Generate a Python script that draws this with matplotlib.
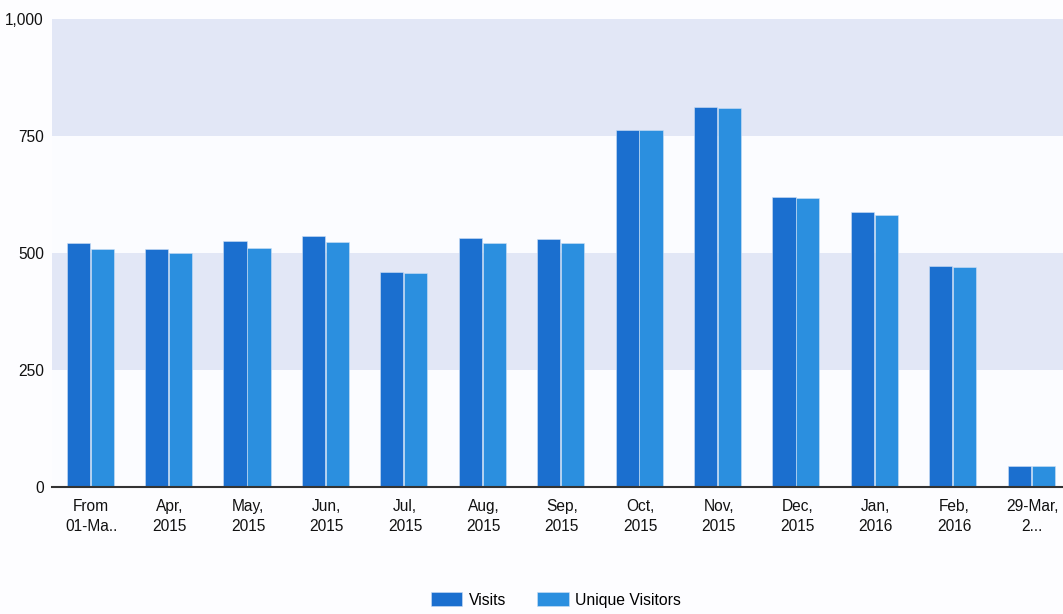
import matplotlib.pyplot as plt
import numpy as np
from matplotlib.ticker import FuncFormatter

plt.rcParams['font.family'] = ['Liberation Sans', 'DejaVu Sans']

labels = ['From\n01-Ma..', 'Apr,\n2015', 'May,\n2015', 'Jun,\n2015', 'Jul,\n2015',
          'Aug,\n2015', 'Sep,\n2015', 'Oct,\n2015', 'Nov,\n2015', 'Dec,\n2015',
          'Jan,\n2016', 'Feb,\n2016', '29-Mar,\n2...']
visits = [521, 508, 526, 536, 459, 532, 530, 763, 812, 620, 588, 472, 45]
unique = [508, 500, 511, 523, 457, 521, 521, 763, 810, 618, 581, 470, 45]
yticks = [0, 250, 500, 750, 1000]

c_visits = '#1b6fcf'
c_unique = '#2b8fdf'
band = '#e2e7f6'

fig = plt.figure(figsize=(10.63, 6.14), dpi=100)
fig.patch.set_facecolor('#fdfdff')
ax = fig.add_axes([0.049, 0.207, 0.951, 0.762])
ax.set_facecolor('#fbfcff')

# alternating bands
ax.axhspan(250, 500, color=band, zorder=0, lw=0)
ax.axhspan(750, 1000, color=band, zorder=0, lw=0)

x = np.arange(len(labels))
w = 0.295
ax.bar(x - w / 2 - 0.02, visits, w, color=c_visits, edgecolor='#cfe0f5', linewidth=0.4,
       label='Visits', zorder=2)
ax.bar(x + w / 2 - 0.01, unique, w, color=c_unique, edgecolor='#cfe0f5', linewidth=0.4,
       label='Unique Visitors', zorder=2)

ax.set_xlim(-0.5, 12.39)
ax.set_ylim(0, 1000)
ax.set_yticks(yticks)
ax.yaxis.set_major_formatter(FuncFormatter(lambda v, p: f'{int(v):,}'))
ax.set_xticks(x)
ax.set_xticklabels(labels, fontsize=11.2, color='#111111', linespacing=1.4)
ax.tick_params(axis='y', length=0, labelsize=11.2, colors='#111111', pad=6)
ax.tick_params(axis='x', length=0, pad=9)

for s in ['top', 'right', 'left']:
    ax.spines[s].set_visible(False)
ax.spines['bottom'].set_color('#333333')
ax.spines['bottom'].set_linewidth(1.5)

fig.legend(loc='center', bbox_to_anchor=(556 / 1063, 1 - 600 / 614), ncol=2,
           frameon=False, fontsize=11.3, handlelength=2.0, handleheight=1.0,
           columnspacing=2.0, handletextpad=0.4)

fig.savefig('out.png', dpi=100, facecolor=fig.get_facecolor())
